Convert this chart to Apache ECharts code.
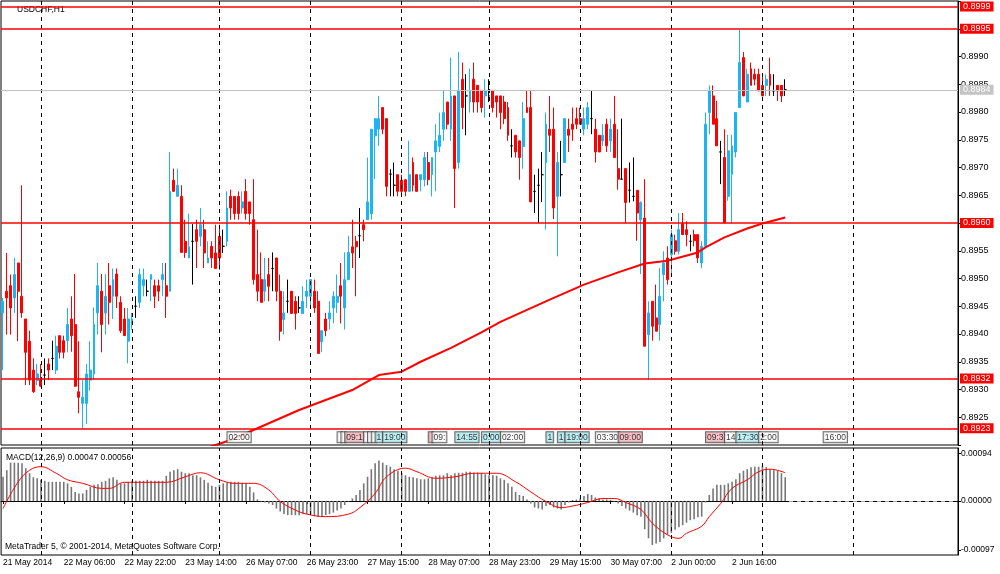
<!DOCTYPE html>
<html>
<head>
<meta charset="utf-8">
<title>USDCHF,H1</title>
<script src="https://cdn.jsdelivr.net/npm/echarts@6.0.0/dist/echarts.min.js"></script>
<style>
html, body { margin: 0; padding: 0; background: #fff; }
#main { width: 1000px; height: 574px; }
</style>
</head>
<body>
<div id="main"></div>
<script>
// 交易日：[日期, 开始小时, 结束小时]，周五只到22:00
var days = [['21 May', 14, 23], ['22 May', 0, 23], ['23 May', 0, 22], ['26 May', 0, 23],
    ['27 May', 0, 23], ['28 May', 0, 23], ['29 May', 0, 23], ['30 May', 0, 22],
    ['2 Jun', 0, 23], ['3 Jun', 0, 23], ['4 Jun', 0, 23], ['5 Jun', 0, 3]];

// H1 蜡烛数据（开、收、低、高）
var opens = [
    0.89438, 0.89477, 0.89487, 0.89465, 0.89528, 0.89468, 0.89427, 0.89387, 0.89335, 0.89316,
    0.89317, 0.89326, 0.89346, 0.89356, 0.89335, 0.89397, 0.89388, 0.89388, 0.89427, 0.89417,
    0.89296, 0.89275, 0.89275, 0.89317, 0.89328, 0.89438, 0.89477, 0.89438, 0.89487, 0.89468,
    0.89508, 0.89457, 0.89427, 0.89387, 0.89417, 0.89450, 0.89457, 0.89487, 0.89477, 0.89498,
    0.89487, 0.89487, 0.89498, 0.89487, 0.89477, 0.89677, 0.89648, 0.89648, 0.89567, 0.89537,
    0.89567, 0.89588, 0.89576, 0.89588, 0.89528, 0.89558, 0.89546, 0.89576, 0.89558, 0.89567,
    0.89648, 0.89648, 0.89648, 0.89627, 0.89657, 0.89638, 0.89606, 0.89507, 0.89498, 0.89477,
    0.89507, 0.89518, 0.89537, 0.89477, 0.89426, 0.89459, 0.89477, 0.89459, 0.89447, 0.89437,
    0.89468, 0.89468, 0.89477, 0.89459, 0.89386, 0.89427, 0.89427, 0.89447, 0.89457, 0.89487,
    0.89447, 0.89498, 0.89557, 0.89567, 0.89577, 0.89597, 0.89606, 0.89617, 0.89757, 0.89769,
    0.89808, 0.89788, 0.89688, 0.89668, 0.89687, 0.89677, 0.89678, 0.89657, 0.89709, 0.89687,
    0.89678, 0.89678, 0.89709, 0.89687, 0.89728, 0.89738, 0.89769, 0.89818, 0.89769, 0.89829,
    0.89709, 0.89859, 0.89829, 0.89818, 0.89859, 0.89848, 0.89839, 0.89829, 0.89829, 0.89839,
    0.89829, 0.89829, 0.89818, 0.89808, 0.89739, 0.89758, 0.89748, 0.89738, 0.89808, 0.89808,
    0.89657, 0.89668, 0.89687, 0.89709, 0.89769, 0.89769, 0.89648, 0.89687, 0.89709, 0.89769,
    0.89778, 0.89788, 0.89788, 0.89769, 0.89778, 0.89788, 0.89769, 0.89758, 0.89748, 0.89778,
    0.89748, 0.89778, 0.89698, 0.89679, 0.89698, 0.89659, 0.89648, 0.89659, 0.89606, 0.89609,
    0.89399, 0.89459, 0.89429, 0.89417, 0.89507, 0.89537, 0.89543, 0.89568, 0.89549, 0.89599,
    0.89588, 0.89567, 0.89579, 0.89579, 0.89528, 0.89558, 0.89799, 0.89829, 0.89788, 0.89728,
    0.89718, 0.89648, 0.89688, 0.89728, 0.89808, 0.89898, 0.89818, 0.89878, 0.89868, 0.89868,
    0.89848, 0.89848, 0.89868, 0.89838, 0.89848, 0.89848, 0.89840
];
var closes = [
    0.89459, 0.89465, 0.89447, 0.89507, 0.89477, 0.89438, 0.89367, 0.89317, 0.89296, 0.89328,
    0.89306, 0.89326, 0.89335, 0.89356, 0.89378, 0.89367, 0.89367, 0.89417, 0.89397, 0.89306,
    0.89286, 0.89286, 0.89328, 0.89335, 0.89417, 0.89487, 0.89417, 0.89468, 0.89457, 0.89498,
    0.89468, 0.89406, 0.89397, 0.89427, 0.89427, 0.89450, 0.89507, 0.89498, 0.89477, 0.89507,
    0.89468, 0.89477, 0.89507, 0.89468, 0.89657, 0.89657, 0.89668, 0.89547, 0.89547, 0.89557,
    0.89567, 0.89567, 0.89597, 0.89546, 0.89537, 0.89537, 0.89518, 0.89537, 0.89558, 0.89627,
    0.89627, 0.89617, 0.89617, 0.89638, 0.89617, 0.89617, 0.89498, 0.89477, 0.89457, 0.89498,
    0.89486, 0.89518, 0.89477, 0.89405, 0.89438, 0.89459, 0.89437, 0.89437, 0.89447, 0.89459,
    0.89477, 0.89498, 0.89447, 0.89365, 0.89406, 0.89406, 0.89438, 0.89468, 0.89468, 0.89468,
    0.89498, 0.89547, 0.89546, 0.89557, 0.89577, 0.89588, 0.89638, 0.89769, 0.89788, 0.89788,
    0.89769, 0.89666, 0.89688, 0.89668, 0.89657, 0.89657, 0.89657, 0.89687, 0.89668, 0.89657,
    0.89687, 0.89718, 0.89678, 0.89718, 0.89748, 0.89758, 0.89799, 0.89778, 0.89829, 0.89698,
    0.89839, 0.89808, 0.89829, 0.89839, 0.89818, 0.89818, 0.89808, 0.89839, 0.89829, 0.89808,
    0.89818, 0.89799, 0.89788, 0.89758, 0.89739, 0.89728, 0.89718, 0.89788, 0.89799, 0.89638,
    0.89657, 0.89668, 0.89687, 0.89778, 0.89758, 0.89627, 0.89709, 0.89687, 0.89788, 0.89758,
    0.89769, 0.89778, 0.89778, 0.89788, 0.89808, 0.89788, 0.89728, 0.89728, 0.89758, 0.89739,
    0.89769, 0.89718, 0.89679, 0.89679, 0.89637, 0.89659, 0.89648, 0.89618, 0.89637, 0.89378,
    0.89438, 0.89414, 0.89405, 0.89468, 0.89528, 0.89498, 0.89579, 0.89549, 0.89588, 0.89579,
    0.89579, 0.89567, 0.89568, 0.89537, 0.89558, 0.89778, 0.89838, 0.89778, 0.89739, 0.89728,
    0.89600, 0.89730, 0.89739, 0.89799, 0.89889, 0.89829, 0.89868, 0.89848, 0.89859, 0.89838,
    0.89829, 0.89859, 0.89848, 0.89838, 0.89838, 0.89829, 0.89840
];
var lows = [
    0.89335, 0.89399, 0.89399, 0.89438, 0.89387, 0.89429, 0.89308, 0.89308, 0.89294, 0.89308,
    0.89305, 0.89308, 0.89317, 0.89335, 0.89328, 0.89356, 0.89356, 0.89367, 0.89368, 0.89305,
    0.89257, 0.89228, 0.89238, 0.89298, 0.89317, 0.89399, 0.89367, 0.89399, 0.89417, 0.89427,
    0.89447, 0.89402, 0.89397, 0.89347, 0.89408, 0.89429, 0.89447, 0.89468, 0.89468, 0.89459,
    0.89447, 0.89459, 0.89468, 0.89429, 0.89477, 0.89657, 0.89648, 0.89547, 0.89537, 0.89537,
    0.89489, 0.89519, 0.89558, 0.89519, 0.89528, 0.89519, 0.89518, 0.89516, 0.89546, 0.89558,
    0.89606, 0.89606, 0.89606, 0.89617, 0.89606, 0.89597, 0.89489, 0.89459, 0.89457, 0.89459,
    0.89459, 0.89477, 0.89459, 0.89388, 0.89399, 0.89438, 0.89437, 0.89408, 0.89438, 0.89437,
    0.89447, 0.89447, 0.89438, 0.89365, 0.89368, 0.89396, 0.89408, 0.89419, 0.89438, 0.89419,
    0.89408, 0.89498, 0.89519, 0.89468, 0.89537, 0.89567, 0.89606, 0.89606, 0.89679, 0.89739,
    0.89760, 0.89648, 0.89648, 0.89648, 0.89648, 0.89648, 0.89648, 0.89657, 0.89657, 0.89657,
    0.89657, 0.89666, 0.89668, 0.89648, 0.89657, 0.89728, 0.89748, 0.89769, 0.89748, 0.89627,
    0.89698, 0.89769, 0.89758, 0.89799, 0.89799, 0.89799, 0.89799, 0.89790, 0.89818, 0.89799,
    0.89790, 0.89769, 0.89778, 0.89748, 0.89718, 0.89718, 0.89678, 0.89698, 0.89799, 0.89638,
    0.89618, 0.89600, 0.89638, 0.89588, 0.89728, 0.89607, 0.89540, 0.89648, 0.89709, 0.89728,
    0.89748, 0.89769, 0.89778, 0.89758, 0.89769, 0.89760, 0.89709, 0.89728, 0.89739, 0.89728,
    0.89728, 0.89718, 0.89660, 0.89679, 0.89600, 0.89637, 0.89639, 0.89568, 0.89508, 0.89378,
    0.89317, 0.89388, 0.89405, 0.89388, 0.89459, 0.89489, 0.89507, 0.89543, 0.89543, 0.89579,
    0.89558, 0.89549, 0.89558, 0.89528, 0.89519, 0.89558, 0.89760, 0.89778, 0.89739, 0.89670,
    0.89600, 0.89640, 0.89600, 0.89718, 0.89808, 0.89829, 0.89818, 0.89848, 0.89848, 0.89838,
    0.89829, 0.89829, 0.89829, 0.89829, 0.89820, 0.89818, 0.89829
];
var highs = [
    0.89465, 0.89546, 0.89507, 0.89537, 0.89528, 0.89668, 0.89427, 0.89406, 0.89356, 0.89346,
    0.89346, 0.89356, 0.89356, 0.89388, 0.89397, 0.89397, 0.89397, 0.89447, 0.89468, 0.89508,
    0.89387, 0.89317, 0.89346, 0.89387, 0.89448, 0.89528, 0.89508, 0.89508, 0.89528, 0.89518,
    0.89518, 0.89468, 0.89447, 0.89447, 0.89438, 0.89468, 0.89518, 0.89518, 0.89498, 0.89507,
    0.89498, 0.89498, 0.89528, 0.89528, 0.89728, 0.89698, 0.89698, 0.89668, 0.89606, 0.89617,
    0.89598, 0.89606, 0.89627, 0.89606, 0.89567, 0.89567, 0.89597, 0.89597, 0.89588, 0.89657,
    0.89660, 0.89648, 0.89657, 0.89657, 0.89679, 0.89638, 0.89679, 0.89588, 0.89547, 0.89537,
    0.89537, 0.89547, 0.89537, 0.89507, 0.89477, 0.89498, 0.89477, 0.89468, 0.89468, 0.89486,
    0.89498, 0.89498, 0.89498, 0.89477, 0.89406, 0.89438, 0.89459, 0.89477, 0.89507, 0.89528,
    0.89547, 0.89577, 0.89606, 0.89577, 0.89627, 0.89606, 0.89718, 0.89769, 0.89788, 0.89829,
    0.89808, 0.89788, 0.89697, 0.89709, 0.89687, 0.89687, 0.89678, 0.89748, 0.89718, 0.89687,
    0.89687, 0.89728, 0.89728, 0.89718, 0.89778, 0.89799, 0.89839, 0.89818, 0.89898, 0.89829,
    0.89908, 0.89889, 0.89868, 0.89878, 0.89889, 0.89848, 0.89839, 0.89859, 0.89859, 0.89839,
    0.89829, 0.89829, 0.89829, 0.89818, 0.89769, 0.89758, 0.89748, 0.89818, 0.89839, 0.89839,
    0.89687, 0.89698, 0.89728, 0.89799, 0.89829, 0.89808, 0.89728, 0.89748, 0.89788, 0.89788,
    0.89808, 0.89808, 0.89808, 0.89808, 0.89818, 0.89838, 0.89788, 0.89758, 0.89778, 0.89788,
    0.89788, 0.89829, 0.89769, 0.89788, 0.89698, 0.89709, 0.89718, 0.89659, 0.89639, 0.89679,
    0.89459, 0.89459, 0.89489, 0.89519, 0.89549, 0.89558, 0.89588, 0.89579, 0.89618, 0.89618,
    0.89603, 0.89579, 0.89588, 0.89579, 0.89568, 0.89799, 0.89848, 0.89848, 0.89820, 0.89748,
    0.89769, 0.89759, 0.89759, 0.89799, 0.89948, 0.89908, 0.89878, 0.89889, 0.89878, 0.89878,
    0.89868, 0.89868, 0.89898, 0.89868, 0.89848, 0.89848, 0.89859
];

// 红色粗线（长周期均线），按图上读到的点
var maBars = [50, 56, 60, 72, 78, 92, 99, 105, 110, 118, 126, 131, 144, 153, 162, 169, 175, 183, 185, 190, 196, 200, 206];
var maValues = [0.89185, 0.89200, 0.89209, 0.89245, 0.89263, 0.89299, 0.89326, 0.89332, 0.89350, 0.89375, 0.89403, 0.89422,
    0.89462, 0.89489, 0.89511, 0.89527, 0.89532, 0.89547, 0.89556, 0.89574, 0.89590, 0.89599, 0.89610];

// MACD 柱
var macdHist = [
    0.00048, 0.00061, 0.00076, 0.00076, 0.00076, 0.00075, 0.00065, 0.00055, 0.00047, 0.00045,
    0.00042, 0.00040, 0.00038, 0.00038, 0.00038, 0.00038, 0.00038, 0.00035, 0.00028, 0.00018,
    0.00015, 0.00015, 0.00022, 0.00028, 0.00032, 0.00033, 0.00038, 0.00040, 0.00045, 0.00047,
    0.00042, 0.00035, 0.00035, 0.00038, 0.00040, 0.00040, 0.00040, 0.00040, 0.00042, 0.00040,
    0.00040, 0.00040, 0.00040, 0.00050, 0.00058, 0.00061, 0.00063, 0.00058, 0.00055, 0.00055,
    0.00051, 0.00051, 0.00047, 0.00042, 0.00036, 0.00030, 0.00028, 0.00032, 0.00035, 0.00036,
    0.00038, 0.00038, 0.00038, 0.00036, 0.00035, 0.00028, 0.00017, 0.00003, -0.00001, -0.00003,
    -0.00005, -0.00008, -0.00015, -0.00021, -0.00026, -0.00028, -0.00028, -0.00028, -0.00028, -0.00026,
    -0.00026, -0.00028, -0.00030, -0.00031, -0.00031, -0.00028, -0.00026, -0.00023, -0.00019, -0.00015,
    -0.00008, -0.00001, 0.00005, 0.00012, 0.00022, 0.00035, 0.00048, 0.00063, 0.00075, 0.00080,
    0.00076, 0.00071, 0.00068, 0.00063, 0.00060, 0.00055, 0.00051, 0.00048, 0.00047, 0.00045,
    0.00043, 0.00043, 0.00045, 0.00047, 0.00050, 0.00051, 0.00051, 0.00055, 0.00051, 0.00055,
    0.00056, 0.00056, 0.00058, 0.00058, 0.00056, 0.00056, 0.00055, 0.00053, 0.00051, 0.00051,
    0.00050, 0.00045, 0.00042, 0.00035, 0.00028, 0.00018, 0.00012, 0.00010, 0.00003, -0.00005,
    -0.00013, -0.00015, -0.00017, -0.00010, -0.00008, -0.00013, -0.00015, -0.00017, -0.00008, -0.00003,
    0.00002, 0.00003, 0.00005, 0.00010, 0.00014, 0.00012, 0.00007, 0.00005, 0.00003, 0.00003,
    0.00002, -0.00001, -0.00005, -0.00010, -0.00015, -0.00019, -0.00023, -0.00028, -0.00031, -0.00056,
    -0.00074, -0.00087, -0.00084, -0.00081, -0.00074, -0.00067, -0.00063, -0.00057, -0.00052, -0.00048,
    -0.00043, -0.00038, -0.00036, -0.00032, -0.00031, -0.00003, 0.00012, 0.00025, 0.00032, 0.00032,
    0.00032, 0.00035, 0.00038, 0.00043, 0.00055, 0.00060, 0.00063, 0.00067, 0.00068, 0.00068,
    0.00069, 0.00067, 0.00063, 0.00061, 0.00060, 0.00055, 0.00047
];
// MACD 信号线
var sigBars = [0, 4, 7, 10, 14, 17, 21, 26, 28, 32, 37, 43, 48, 52, 57, 61, 66, 70, 73, 77, 80, 85, 91, 94, 98, 101,
    106, 109, 114, 119, 124, 130, 135, 139, 143, 147, 150, 154, 158, 161, 164, 168, 171, 175, 178, 180, 184, 186,
    189, 192, 196, 199, 202, 206];
var sigValues = [-0.00015, 0.00038, 0.00061, 0.00068, 0.00055, 0.00042, 0.00035, 0.00025, 0.00025, 0.00037, 0.00037,
    0.00037, 0.00048, 0.00056, 0.00042, 0.00035, 0.00035, 0.00022, -0.00001, -0.00018, -0.00026, -0.00031, -0.00026,
    -0.00013, 0.00015, 0.00048, 0.00065, 0.00058, 0.00045, 0.00048, 0.00055, 0.00055, 0.00038, 0.00018, -0.00001,
    -0.00013, -0.00010, -0.00003, 0.00005, 0.00005, -0.00003, -0.00017, -0.00044, -0.00067, -0.00074, -0.00064,
    -0.00050, -0.00031, -0.00005, 0.00025, 0.00042, 0.00058, 0.00063, 0.00056];

// 水平线与日分隔线
var redLevels = [0.8999, 0.8995, 0.8960, 0.8932, 0.8923];
var bidLevel = 0.8984;
var separatorBars = [10, 34, 57, 81, 105, 128, 152, 176, 200, 224];
var priceTicks = [0.8920, 0.9000, 0.0005];
var macdTicks = [0.00094, 0, -0.00097];

// 财经日历事件：[K线序号, 文字, 类型]
var eventBars = [59, 88, 89, 90, 95, 96, 97, 98, 100, 112, 113, 119, 126, 131, 143, 146, 148, 156, 162, 185, 190, 193, 199, 216];
var eventTexts = ['02:00', ' ', ' ', '09:1', ' ', ' ', ' ', '1', '19:00', ' ', '09:', '14:55', '0:00', '02:00', '1', '1',
    '19:00', '03:30', '09:00', '09:3', '14', '17:30', '2:00', '16:00'];
var eventKinds = ['w', 'w', 'w', 'p', 'w', 'w', 'w', 'c', 'c', 'p', 'w', 'c', 'c', 'w', 'c', 'c', 'c', 'w', 'p', 'p', 'w', 'c', 'w', 'w'];

var times = [];
days.forEach(function (d) {
    for (var h = d[1]; h <= d[2]; h++) {
        times.push(d[0] + ' ' + (h < 10 ? '0' : '') + h + ':00');
    }
});
times[0] = '21 May 2014';
var lastBar = opens.length - 1;
var FONT = '"Liberation Sans", Arial, sans-serif';

var candles = opens.map(function (o, k) { return [o, closes[k], lows[k], highs[k]]; });
var maData = maBars.map(function (b, k) { return [b, maValues[k]]; });
var sigData = sigBars.map(function (b, k) { return [b, sigValues[k]]; });

var kindColor = { w: '#ffffff', p: '#f4b4bc', c: '#b2eef2' };
var eventData = eventBars.map(function (b, k) {
    return {
        value: [b, 0.89214],
        label: {
            show: true, position: 'right', distance: 0,
            formatter: eventTexts[k],
            backgroundColor: kindColor[eventKinds[k]],
            borderColor: '#444', borderWidth: 1,
            padding: [1, 1, 0, 1], fontSize: 8.5, fontFamily: FONT, color: '#000'
        }
    };
});

var levelLines = redLevels.map(function (v) {
    return {
        yAxis: v,
        lineStyle: { color: '#ff0000', width: 1.5, type: 'solid' },
        label: {
            show: true, position: 'end', distance: 2, formatter: v.toFixed(4),
            backgroundColor: '#ff0000', color: '#fff', padding: [1, 3, 0, 3], fontSize: 9, fontFamily: FONT
        }
    };
});
levelLines.push({
    yAxis: bidLevel,
    lineStyle: { color: '#c0c0c0', width: 1, type: 'solid' },
    label: {
        show: true, position: 'end', distance: 2, formatter: bidLevel.toFixed(4),
        backgroundColor: '#c4c4c4', color: '#fff', padding: [1, 3, 0, 3], fontSize: 9, fontFamily: FONT
    }
});
var sepLines = separatorBars.map(function (b) {
    return { xAxis: b, lineStyle: { color: '#000', width: 1, type: [4, 4] }, label: { show: false } };
});

function showTick(i) { return i % 16 === 0 && i <= lastBar; }

var chart = echarts.init(document.getElementById('main'), null, { renderer: 'canvas' });
chart.setOption({
    animation: false,
    backgroundColor: '#fff',
    grid: [
        { left: 1, top: 1, width: 957, height: 444, show: true, borderColor: '#000', borderWidth: 1 },
        { left: 1, top: 448, width: 957, height: 107, show: true, borderColor: '#000', borderWidth: 1 }
    ],
    xAxis: [
        { type: 'category', gridIndex: 0, data: times, boundaryGap: true, show: false },
        {
            type: 'category', gridIndex: 1, data: times, boundaryGap: true,
            axisLine: { show: true, lineStyle: { color: '#000' } },
            axisTick: { show: true, alignWithLabel: true, interval: showTick, length: 3, lineStyle: { color: '#000' } },
            axisLabel: { interval: showTick, align: 'left', fontSize: 8.5, fontFamily: FONT, color: '#000', margin: 3 },
            splitLine: { show: false }
        }
    ],
    yAxis: [
        {
            type: 'value', gridIndex: 0, position: 'right',
            min: priceTicks[0], max: priceTicks[1], interval: priceTicks[2],
            axisLine: { show: true, lineStyle: { color: '#000' } },
            axisTick: { show: true, length: 3, lineStyle: { color: '#000' } },
            splitLine: { show: false },
            axisLabel: {
                fontSize: 9, fontFamily: FONT, color: '#000', margin: 3,
                formatter: function (v) { return (v < 0.89201 || v > 0.89999) ? '' : v.toFixed(4); }
            }
        },
        {
            type: 'value', gridIndex: 1, position: 'right', min: -0.00107, max: 0.00105,
            axisLine: { show: true, lineStyle: { color: '#000' } },
            axisTick: { show: true, length: 3, customValues: macdTicks, lineStyle: { color: '#000' } },
            splitLine: { show: false },
            axisLabel: {
                customValues: macdTicks, fontSize: 8.5, fontFamily: FONT, color: '#000', margin: 3,
                formatter: function (v) { return v.toFixed(5); }
            }
        }
    ],
    series: [
        {
            type: 'candlestick', xAxisIndex: 0, yAxisIndex: 0, data: candles, barWidth: 2.4,
            itemStyle: {
                color: '#1cb4f4', color0: '#ff0000', borderColor: '#1cb4f4', borderColor0: '#ff0000',
                borderColorDoji: '#000', borderWidth: 1
            },
            markLine: { silent: true, symbol: ['none', 'none'], data: sepLines }
        },
        {
            type: 'line', xAxisIndex: 0, yAxisIndex: 0, data: maData, symbol: 'none', clip: true,
            lineStyle: { color: '#ff0000', width: 2 }, z: 3,
            markLine: { silent: true, symbol: ['none', 'none'], precision: 5, data: levelLines }
        },
        {
            type: 'scatter', xAxisIndex: 0, yAxisIndex: 0, data: eventData, symbolSize: 1,
            itemStyle: { color: 'rgba(0,0,0,0)' }, z: 4
        },
        {
            type: 'bar', xAxisIndex: 1, yAxisIndex: 1, data: macdHist, barWidth: 1.6,
            itemStyle: { color: '#777' },
            markLine: {
                silent: true, symbol: ['none', 'none'], precision: 6,
                data: sepLines.concat([[
                    { coord: [lastBar + 1, 0], lineStyle: { color: '#aaa', width: 1, type: [4, 4] }, label: { show: false } },
                    { coord: [times.length - 1, 0] }
                ]])
            }
        },
        {
            type: 'line', xAxisIndex: 1, yAxisIndex: 1, data: sigData, symbol: 'none', smooth: 0.4,
            lineStyle: { color: '#ff0000', width: 1 }
        }
    ],
    graphic: [
        { type: 'text', left: 17, top: 5, style: { text: 'USDCHF,H1', fontSize: 8.5, fontFamily: FONT, fill: '#000' } },
        { type: 'text', left: 6, top: 453, style: { text: 'MACD(12,26,9) 0.00047 0.00056', fontSize: 8.5, fontFamily: FONT, fill: '#000' } },
        { type: 'text', left: 5, top: 542, style: { text: 'MetaTrader 5, © 2001-2014, MetaQuotes Software Corp.', fontSize: 8.5, fontFamily: FONT, fill: '#000' } }
    ]
});
</script>
</body>
</html>
